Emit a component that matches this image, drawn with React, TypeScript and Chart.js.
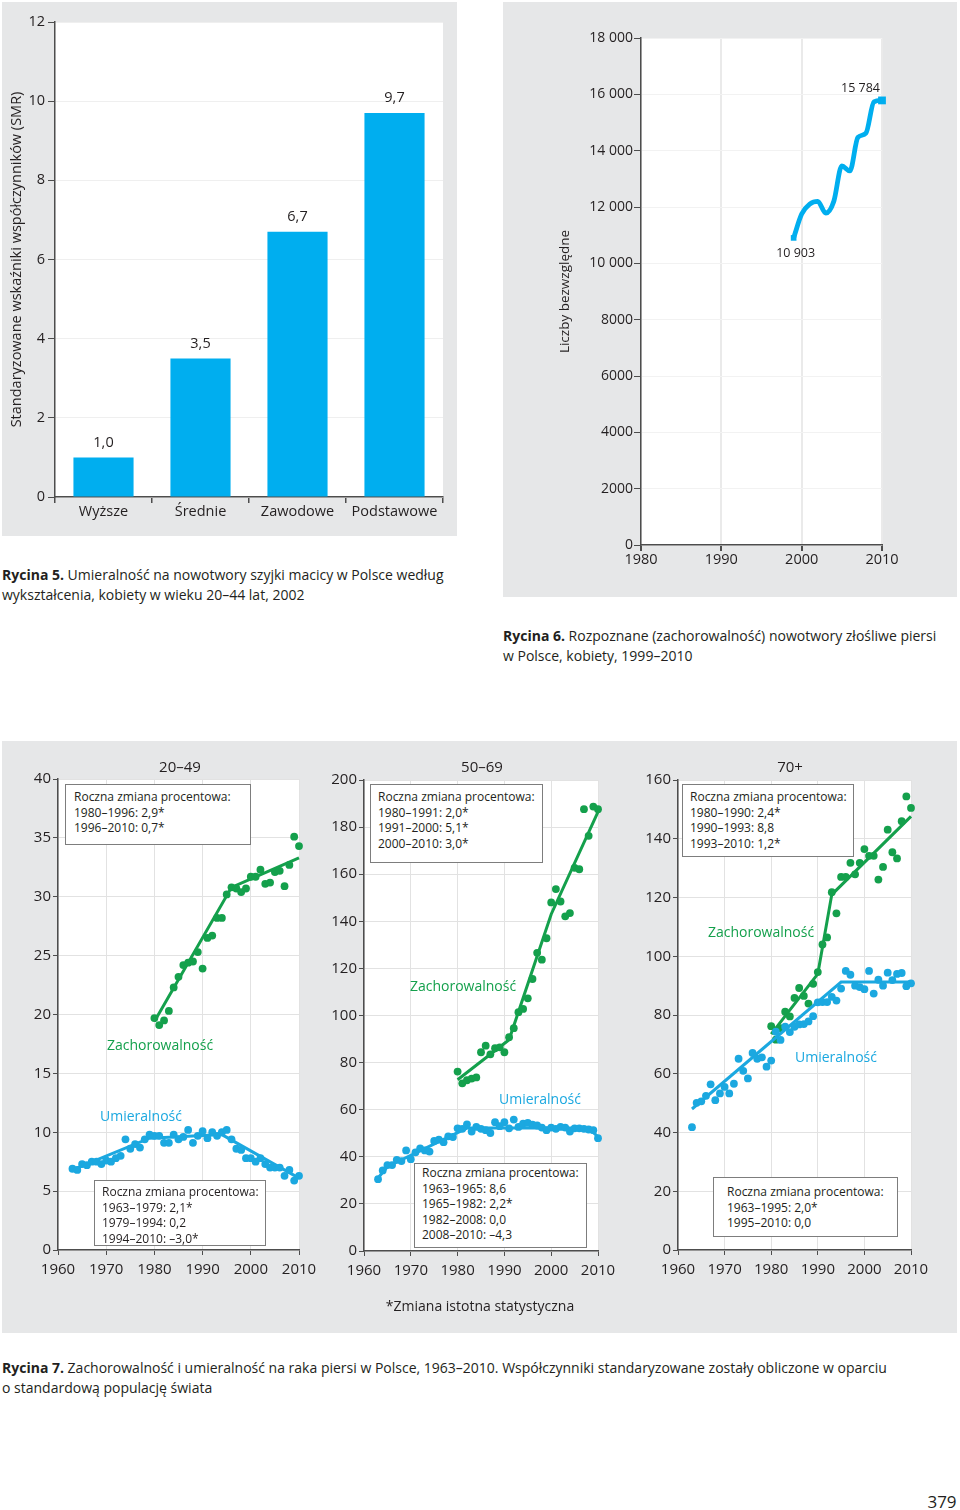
import React, { useEffect, useRef } from 'react';
import { Chart, registerables } from 'chart.js';

Chart.register(...registerables);

const FONT = '"Open Sans", "Noto Sans", sans-serif';
const TEXT = '#231f20';
const GREEN = '#14a04c';
const BLUE = '#1ba8e0';
const BAR = '#00aeef';
const PANEL = '#e6e7e8';
Chart.defaults.font.family = FONT;

// ---------- Rycina 5 ----------
const educationCategories = ['Wyższe', 'Średnie', 'Zawodowe', 'Podstawowe'];
const smrValues = [1.0, 3.5, 6.7, 9.7];
const smrTicks = { min: 0, max: 12, step: 2 };

// ---------- Rycina 6 ----------
const breastYears = [1999, 2000, 2001, 2002, 2003, 2004, 2005, 2006, 2007, 2008, 2009, 2010];
const breastCounts = [10903, 11750, 12100, 12200, 11780, 12200, 13460, 13280, 14470, 14620, 15730, 15784];
const countTicks = { min: 0, max: 18000, step: 2000 };
const yearAxis6 = { min: 1980, max: 2010, step: 10 };

// ---------- Rycina 7 ----------
const yearsInc = [1980, 1981, 1982, 1983, 1984, 1985, 1986, 1987, 1988, 1989, 1990, 1991, 1992, 1993, 1994, 1995,
  1996, 1997, 1998, 1999, 2000, 2001, 2002, 2003, 2004, 2005, 2006, 2007, 2008, 2009, 2010];
const yearsMor = [1963, 1964, 1965, 1966, 1967, 1968, 1969, 1970, 1971, 1972, 1973, 1974, 1975, 1976, 1977, 1978,
  1979, 1980, 1981, 1982, 1983, 1984, 1985, 1986, 1987, 1988, 1989, 1990, 1991, 1992, 1993, 1994, 1995, 1996,
  1997, 1998, 1999, 2000, 2001, 2002, 2003, 2004, 2005, 2006, 2007, 2008, 2009, 2010];

// 20–49
const inc2049 = [19.7, 19.1, 19.5, 20.3, 22.3, 23.2, 24.2, 24.4, 24.5, 25.3, 23.9, 26.5, 26.7, 28.2, 28.2, 30.2,
  30.8, 30.7, 30.4, 30.7, 31.7, 31.7, 32.3, 31.1, 31.2, 32.1, 32.2, 30.9, 32.7, 35.1, 34.3];
const mor2049 = [6.9, 6.8, 7.3, 7.2, 7.5, 7.5, 7.3, 7.6, 7.5, 7.8, 8.0, 9.4, 8.6, 9.0, 8.7, 9.4, 9.8, 9.7, 9.7,
  9.1, 9.1, 9.8, 9.4, 9.6, 10.2, 9.1, 9.7, 10.1, 9.5, 10.0, 9.7, 10.0, 10.2, 9.4, 8.6, 8.5, 7.8, 7.8, 7.5, 7.8,
  7.3, 7.0, 7.0, 7.0, 6.3, 6.8, 5.9, 6.3];
const incTrendYears2049 = [1980, 1996, 2010];
const incTrend2049 = [19.4, 30.8, 33.3];
const morTrendYears2049 = [1963, 1979, 1994, 2010];
const morTrend2049 = [6.8, 9.5, 9.8, 6.1];

// 50–69
const inc5069 = [76.2, 71.2, 72.5, 73.2, 73.7, 84.4, 87.2, 83.5, 86.1, 86.5, 84.4, 90.8, 94.6, 101.4, 102.8, 107.3,
  115.5, 126.6, 123.7, 132.8, 148.0, 153.7, 148.4, 142.1, 143.5, 162.7, 162.1, 187.6, 176.3, 188.7, 187.6];
const mor5069 = [30.5, 34.2, 36.5, 36.5, 38.7, 38.2, 42.7, 39.0, 41.9, 43.6, 42.7, 42.2, 46.7, 47.3, 46.2, 48.7,
  48.4, 52.1, 51.9, 53.8, 50.7, 52.7, 51.9, 51.3, 50.1, 54.7, 53.0, 54.7, 52.1, 55.8, 52.7, 54.1, 54.4, 53.6,
  53.3, 52.4, 51.3, 52.4, 51.9, 52.7, 52.4, 50.7, 52.1, 52.1, 51.9, 51.6, 51.3, 47.9];
const incTrendYears5069 = [1980, 1991, 2000, 2010];
const incTrend5069 = [72.7, 89.7, 143.0, 186.5];
const morTrendYears5069 = [1963, 1965, 1982, 2008, 2010];
const morTrend5069 = [31.0, 35.8, 52.2, 52.2, 48.5];

// 70+
const inc70 = [76.2, 71.6, 75.5, 81.1, 79.5, 85.8, 89.2, 86.5, 83.9, 90.6, 94.6, 104.0, 106.4, 121.8, 114.6, 127.0,
  127.0, 131.8, 127.9, 131.8, 136.5, 134.2, 134.2, 126.1, 130.4, 143.1, 135.4, 133.3, 146.0, 154.4, 150.5];
const mor70 = [41.8, 50.1, 50.6, 52.5, 56.4, 51.0, 53.3, 55.5, 53.3, 56.6, 65.1, 61.0, 58.4, 67.1, 65.1, 65.6,
  62.4, 64.5, 74.3, 71.5, 76.0, 74.2, 76.0, 76.8, 76.9, 77.8, 79.6, 84.3, 84.4, 84.4, 86.2, 84.9, 89.0, 95.0,
  93.7, 90.0, 89.5, 88.8, 95.0, 87.3, 92.0, 90.0, 94.4, 91.9, 94.0, 94.3, 89.8, 90.8];
const incTrendYears70 = [1980, 1990, 1993, 2010];
const incTrend70 = [73.5, 94.0, 121.0, 147.6];
const morTrendYears70 = [1963, 1995, 2010];
const morTrend70 = [48.0, 91.2, 91.2];

const panelYears = { min: 1960, max: 2010, step: 10 };

// ---------- helpers ----------
const pts = (xs: number[], ys: number[]) => xs.map((x, i) => ({ x, y: ys[i] }));
const spaced = (v: number) => (v >= 10000 ? String(v).replace(/\B(?=(\d{3})+(?!\d))/g, ' ') : String(v));
const comma = (v: number) => v.toFixed(1).replace('.', ',');

const areaBg = {
  id: 'areaBg',
  beforeDraw(chart: any) {
    const { ctx, chartArea: a } = chart;
    ctx.save();
    ctx.fillStyle = '#ffffff';
    ctx.fillRect(a.left, a.top, a.right - a.left, a.bottom - a.top);
    ctx.restore();
  },
};

const barLabels = {
  id: 'barLabels',
  afterDatasetsDraw(chart: any) {
    const { ctx } = chart;
    const meta = chart.getDatasetMeta(0);
    const data = chart.data.datasets[0].data as number[];
    ctx.save();
    ctx.font = `14.5px ${FONT}`;
    ctx.fillStyle = TEXT;
    ctx.textAlign = 'center';
    ctx.textBaseline = 'middle';
    meta.data.forEach((el: any, i: number) => ctx.fillText(comma(data[i]), el.x, el.y - 15));
    ctx.restore();
  },
};

const endLabels = {
  id: 'endLabels',
  afterDatasetsDraw(chart: any) {
    const { ctx } = chart;
    const meta = chart.getDatasetMeta(0);
    const data = chart.data.datasets[0].data as any[];
    const first = meta.data[0];
    const last = meta.data[meta.data.length - 1];
    ctx.save();
    ctx.font = `12.5px ${FONT}`;
    ctx.fillStyle = TEXT;
    ctx.textBaseline = 'middle';
    ctx.textAlign = 'center';
    ctx.fillText(spaced(data[0].y), first.x + 2, first.y + 16);
    ctx.textAlign = 'right';
    ctx.fillText(spaced(data[data.length - 1].y), last.x - 2, last.y - 12);
    ctx.restore();
  },
};

function axisStyle(extra: any) {
  return {
    border: { color: '#4d4d4d', width: 1.5 },
    ...extra,
  };
}

function ChartCanvas({ x, y, w, h, make }: { x: number; y: number; w: number; h: number; make: () => any }) {
  const ref = useRef<HTMLCanvasElement>(null);
  useEffect(() => {
    const chart = new Chart(ref.current as HTMLCanvasElement, make());
    return () => chart.destroy();
  }, []);
  return (
    <canvas
      ref={ref}
      width={w}
      height={h}
      style={{ position: 'absolute', left: x, top: y, width: w, height: h }}
    />
  );
}

// ---------- chart configs ----------
function barConfig() {
  return {
    type: 'bar',
    data: {
      labels: educationCategories,
      datasets: [{ data: smrValues, backgroundColor: BAR, barPercentage: 0.62, categoryPercentage: 1 }],
    },
    plugins: [areaBg, barLabels],
    options: {
      responsive: false,
      animation: false,
      layout: { padding: { top: 20, right: 14, left: 0, bottom: 0 } },
      plugins: { legend: { display: false }, tooltip: { enabled: false } },
      scales: {
        x: axisStyle({
          grid: { drawOnChartArea: false, tickColor: '#4d4d4d', tickLength: 6, offset: true, lineWidth: 1.5 },
          ticks: { color: TEXT, font: { size: 14.5 }, padding: 0 },
          afterFit: (s: any) => { s.height = 39; },
        }),
        y: axisStyle({
          min: smrTicks.min,
          max: smrTicks.max,
          ticks: { stepSize: smrTicks.step, color: TEXT, font: { size: 14.5 }, padding: 3 },
          grid: { color: '#efefef', tickColor: '#4d4d4d', tickLength: 7 },
          title: {
            display: true,
            text: 'Standaryzowane wskaźniki współczynników (SMR)',
            color: TEXT,
            font: { size: 14.5 },
            padding: { top: 6, bottom: 0 },
          },
          afterFit: (s: any) => { s.width = 53; },
        }),
      },
    },
  };
}

function lineConfig() {
  const n = breastYears.length;
  return {
    type: 'line',
    data: {
      datasets: [{
        data: pts(breastYears, breastCounts),
        borderColor: BAR,
        backgroundColor: BAR,
        borderWidth: 4.8,
        cubicInterpolationMode: 'monotone',
        pointStyle: 'rect',
        pointRadius: breastYears.map((_, i) => (i === 0 ? 4 : i === n - 1 ? 5.5 : 0)),
        pointBorderWidth: 0,
        clip: false,
      }],
    },
    plugins: [areaBg, endLabels],
    options: {
      responsive: false,
      animation: false,
      layout: { padding: { top: 36, right: 75, left: 0, bottom: 0 } },
      plugins: { legend: { display: false }, tooltip: { enabled: false } },
      scales: {
        x: axisStyle({
          type: 'linear',
          min: yearAxis6.min,
          max: yearAxis6.max,
          ticks: { stepSize: yearAxis6.step, color: TEXT, font: { size: 14.5 }, padding: 0, callback: (v: any) => String(v) },
          grid: { color: '#eaeaea', lineWidth: 2, tickColor: '#4d4d4d', tickLength: 6 },
          afterFit: (s: any) => { s.height = 52; },
        }),
        y: axisStyle({
          min: countTicks.min,
          max: countTicks.max,
          ticks: { stepSize: countTicks.step, color: TEXT, font: { size: 14 }, padding: 1, callback: (v: any) => spaced(v) },
          grid: { color: '#f2f2f2', tickColor: '#4d4d4d', tickLength: 7 },
          title: {
            display: true,
            text: 'Liczby bezwzględne',
            color: TEXT,
            font: { size: 13.5 },
            padding: { top: 54, bottom: 0 },
          },
          afterFit: (s: any) => { s.width = 138; },
        }),
      },
    },
  };
}

function panelConfig(opts: {
  yMax: number; yStep: number; yWidth: number; xHeight: number; padTop: number; padRight: number;
  inc: number[]; mor: number[]; incTY: number[]; incT: number[]; morTY: number[]; morT: number[];
}) {
  const dot = (data: any[], color: string) => ({
    data, showLine: false, pointRadius: 3.9, pointBackgroundColor: color, pointBorderWidth: 0,
    backgroundColor: color, borderColor: color, clip: false,
  });
  const trend = (data: any[], color: string) => ({
    data, showLine: true, pointRadius: 0, borderWidth: 3, borderColor: color, tension: 0, clip: false,
  });
  return {
    type: 'scatter',
    data: {
      datasets: [
        dot(pts(yearsMor, opts.mor), BLUE),
        trend(pts(opts.morTY, opts.morT), BLUE),
        dot(pts(yearsInc, opts.inc), GREEN),
        trend(pts(opts.incTY, opts.incT), GREEN),
      ],
    },
    plugins: [areaBg],
    options: {
      responsive: false,
      animation: false,
      layout: { padding: { top: opts.padTop, right: opts.padRight, left: 0, bottom: 0 } },
      plugins: { legend: { display: false }, tooltip: { enabled: false } },
      scales: {
        x: axisStyle({
          type: 'linear',
          min: panelYears.min,
          max: panelYears.max,
          ticks: { stepSize: panelYears.step, color: TEXT, font: { size: 15 }, padding: 6, maxRotation: 0, callback: (v: any) => String(v) },
          grid: { color: '#e2e2e2', tickColor: '#4d4d4d', tickLength: 5 },
          afterFit: (s: any) => { s.height = opts.xHeight; },
        }),
        y: axisStyle({
          min: 0,
          max: opts.yMax,
          ticks: { stepSize: opts.yStep, color: TEXT, font: { size: 15 }, padding: 2, callback: (v: any) => String(v) },
          grid: { color: '#e2e2e2', tickColor: '#4d4d4d', tickLength: 5 },
          afterFit: (s: any) => { s.width = opts.yWidth; },
        }),
      },
    },
  };
}

// ---------- overlay text ----------
function Label({ x, y, children, size = 14, color = TEXT }: any) {
  return (
    <div style={{
      position: 'absolute', left: x, top: y, transform: 'translate(-50%, -50%)', fontSize: size, color,
      whiteSpace: 'nowrap', lineHeight: 1.2,
    }}>{children}</div>
  );
}

function NoteBox({ x, y, w, h, pt, pl, lines }: any) {
  return (
    <div style={{
      position: 'absolute', left: x, top: y, width: w, height: h, boxSizing: 'border-box',
      border: '1px solid #7d7d7d', background: '#fff', paddingTop: pt, paddingLeft: pl,
      fontSize: 12, lineHeight: '15.6px', color: TEXT, whiteSpace: 'nowrap',
    }}>
      {lines.map((l: string, i: number) => <div key={i}>{l}</div>)}
    </div>
  );
}

function Caption({ x, y, w, bold, lines }: any) {
  return (
    <div style={{
      position: 'absolute', left: x, top: y, width: w, fontSize: 14, lineHeight: '20px', color: TEXT,
      whiteSpace: 'nowrap',
    }}>
      <div><b>{bold}</b> {lines[0]}</div>
      {lines.slice(1).map((l: string, i: number) => <div key={i}>{l}</div>)}
    </div>
  );
}

export default function App() {
  return (
    <div style={{ position: 'absolute', left: 0, top: 0, width: 960, height: 1510, fontFamily: FONT, color: TEXT, background: '#fff' }}>
      {/* panels */}
      <div style={{ position: 'absolute', left: 2, top: 2, width: 455, height: 534, background: PANEL }} />
      <div style={{ position: 'absolute', left: 503, top: 2, width: 454, height: 595, background: PANEL }} />
      <div style={{ position: 'absolute', left: 2, top: 741, width: 955, height: 592, background: PANEL }} />

      <ChartCanvas x={2} y={2} w={455} h={534} make={barConfig} />
      <ChartCanvas x={503} y={2} w={454} h={595} make={lineConfig} />

      <ChartCanvas x={2} y={741} w={323} h={592} make={() => panelConfig({
        yMax: 40, yStep: 5, yWidth: 56, xHeight: 83, padTop: 38, padRight: 26,
        inc: inc2049, mor: mor2049, incTY: incTrendYears2049, incT: incTrend2049, morTY: morTrendYears2049, morT: morTrend2049,
      })} />
      <ChartCanvas x={325} y={741} w={310} h={592} make={() => panelConfig({
        yMax: 200, yStep: 20, yWidth: 39, xHeight: 82, padTop: 39, padRight: 37,
        inc: inc5069, mor: mor5069, incTY: incTrendYears5069, incT: incTrend5069, morTY: morTrendYears5069, morT: morTrend5069,
      })} />
      <ChartCanvas x={635} y={741} w={322} h={592} make={() => panelConfig({
        yMax: 160, yStep: 20, yWidth: 43, xHeight: 83, padTop: 39, padRight: 46,
        inc: inc70, mor: mor70, incTY: incTrendYears70, incT: incTrend70, morTY: morTrendYears70, morT: morTrend70,
      })} />

      {/* panel titles */}
      <Label x={180} y={766} size={15}>20–49</Label>
      <Label x={482} y={766} size={15}>50–69</Label>
      <Label x={790} y={766} size={15}>70+</Label>

      {/* series labels */}
      <Label x={160} y={1045} color={GREEN}>Zachorowalność</Label>
      <Label x={141} y={1116} color={BLUE}>Umieralność</Label>
      <Label x={463} y={986} color={GREEN}>Zachorowalność</Label>
      <Label x={540} y={1099} color={BLUE}>Umieralność</Label>
      <Label x={761} y={932} color={GREEN}>Zachorowalność</Label>
      <Label x={836} y={1057} color={BLUE}>Umieralność</Label>

      {/* notes */}
      <NoteBox x={65} y={784} w={186} h={61} pt={4} pl={8}
        lines={['Roczna zmiana procentowa:', '1980–1996: 2,9*', '1996–2010: 0,7*']} />
      <NoteBox x={94} y={1180} w={172} h={66} pt={3} pl={7}
        lines={['Roczna zmiana procentowa:', '1963–1979: 2,1*', '1979–1994: 0,2', '1994–2010: –3,0*']} />
      <NoteBox x={370} y={784} w={173} h={79} pt={4} pl={7}
        lines={['Roczna zmiana procentowa:', '1980–1991: 2,0*', '1991–2000: 5,1*', '2000–2010: 3,0*']} />
      <NoteBox x={414} y={1163} w={173} h={85} pt={1} pl={7}
        lines={['Roczna zmiana procentowa:', '1963–1965: 8,6', '1965–1982: 2,2*', '1982–2008: 0,0', '2008–2010: –4,3']} />
      <NoteBox x={682} y={784} w={172} h={73} pt={4} pl={7}
        lines={['Roczna zmiana procentowa:', '1980–1990: 2,4*', '1990–1993: 8,8', '1993–2010: 1,2*']} />
      <NoteBox x={713} y={1177} w={185} h={60} pt={6} pl={13}
        lines={['Roczna zmiana procentowa:', '1963–1995: 2,0*', '1995–2010: 0,0']} />

      <Label x={480} y={1306} size={14}>*Zmiana istotna statystyczna</Label>

      {/* captions */}
      <Caption x={2} y={565} bold="Rycina 5."
        lines={['Umieralność na nowotwory szyjki macicy w Polsce według', 'wykształcenia, kobiety w wieku 20–44 lat, 2002']} />
      <Caption x={503} y={626} bold="Rycina 6."
        lines={['Rozpoznane (zachorowalność) nowotwory złośliwe piersi', 'w Polsce, kobiety, 1999–2010']} />
      <Caption x={2} y={1358} bold="Rycina 7."
        lines={['Zachorowalność i umieralność na raka piersi w Polsce, 1963–2010. Współczynniki standaryzowane zostały obliczone w oparciu', 'o standardową populację świata']} />

      <Label x={942} y={1502} size={17}>379</Label>
    </div>
  );
}
